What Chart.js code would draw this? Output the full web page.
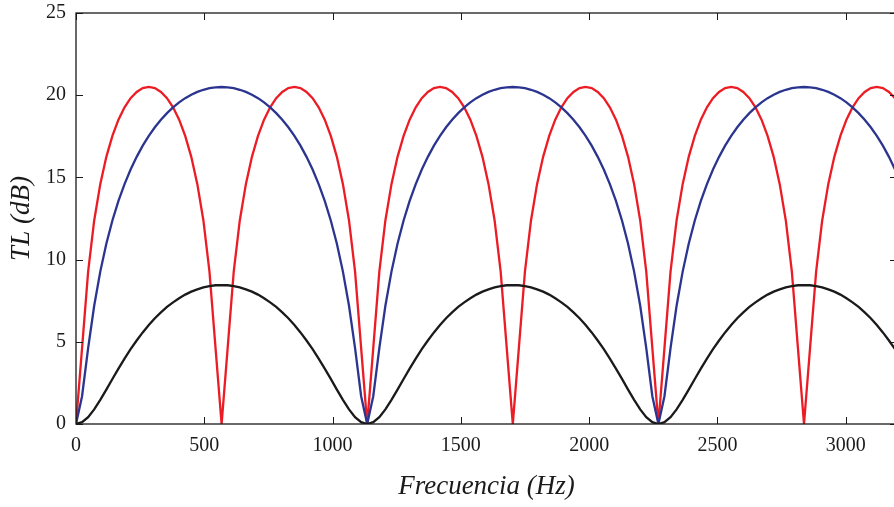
<!DOCTYPE html>
<html>
<head>
<meta charset="utf-8">
<script src="https://cdn.jsdelivr.net/npm/chart.js@4/dist/chart.umd.min.js"></script>
<style>
  html, body { margin: 0; padding: 0; background: #fff; overflow: hidden; }
  #caja { width: 900px; height: 507px; }
</style>
</head>
<body>
<div id="caja"><canvas id="graficoTL"></canvas></div>
<script>
// frecuencias (Hz)
const frecuencia = [
  0, 23.6, 47.3, 70.9, 94.6, 118.2, 141.9, 165.5, 189.2, 212.8, 236.5, 260.1, 283.8, 307.4, 331.0, 354.7,
  378.3, 402.0, 425.6, 449.3, 472.9, 496.6, 520.2, 543.9, 567.5, 591.1, 614.8, 638.4, 662.1, 685.7, 709.4, 733.0,
  756.7, 780.3, 804.0, 827.6, 851.3, 874.9, 898.5, 922.2, 945.8, 969.5, 993.1, 1016.8, 1040.4, 1064.1, 1087.7, 1111.4,
  1135.0, 1158.6, 1182.3, 1205.9, 1229.6, 1253.2, 1276.9, 1300.5, 1324.2, 1347.8, 1371.5, 1395.1, 1418.8, 1442.4, 1466.0, 1489.7,
  1513.3, 1537.0, 1560.6, 1584.3, 1607.9, 1631.6, 1655.2, 1678.9, 1702.5, 1726.1, 1749.8, 1773.4, 1797.1, 1820.7, 1844.4, 1868.0,
  1891.7, 1915.3, 1939.0, 1962.6, 1986.3, 2009.9, 2033.5, 2057.2, 2080.8, 2104.5, 2128.1, 2151.8, 2175.4, 2199.1, 2222.7, 2246.4,
  2270.0, 2293.6, 2317.3, 2340.9, 2364.6, 2388.2, 2411.9, 2435.5, 2459.2, 2482.8, 2506.5, 2530.1, 2553.8, 2577.4, 2601.0, 2624.7,
  2648.3, 2672.0, 2695.6, 2719.3, 2742.9, 2766.6, 2790.2, 2813.9, 2837.5, 2861.1, 2884.8, 2908.4, 2932.1, 2955.7, 2979.4, 3003.0,
  3026.7, 3050.3, 3074.0, 3097.6, 3121.3, 3144.9, 3168.6, 3192.2, 3215.8
];

// TL (dB) curva azul
const tlAzul = [
  0, 1.69, 4.62, 7.19, 9.27, 10.97, 12.38, 13.57, 14.59, 15.48, 16.25, 16.93, 17.53, 18.05, 18.51, 18.91,
  19.26, 19.56, 19.82, 20.03, 20.20, 20.33, 20.43, 20.48, 20.50, 20.48, 20.43, 20.33, 20.20, 20.03, 19.82, 19.56,
  19.26, 18.91, 18.51, 18.05, 17.53, 16.93, 16.25, 15.48, 14.59, 13.57, 12.38, 10.97, 9.27, 7.19, 4.62, 1.69,
  0, 1.69, 4.62, 7.19, 9.27, 10.97, 12.38, 13.57, 14.59, 15.48, 16.25, 16.93, 17.53, 18.05, 18.51, 18.91,
  19.26, 19.56, 19.82, 20.03, 20.20, 20.33, 20.43, 20.48, 20.50, 20.48, 20.43, 20.33, 20.20, 20.03, 19.82, 19.56,
  19.26, 18.91, 18.51, 18.05, 17.53, 16.93, 16.25, 15.48, 14.59, 13.57, 12.38, 10.97, 9.27, 7.19, 4.62, 1.69,
  0, 1.69, 4.62, 7.19, 9.27, 10.97, 12.38, 13.57, 14.59, 15.48, 16.25, 16.93, 17.53, 18.05, 18.51, 18.91,
  19.26, 19.56, 19.82, 20.03, 20.20, 20.33, 20.43, 20.48, 20.50, 20.48, 20.43, 20.33, 20.20, 20.03, 19.82, 19.56,
  19.26, 18.91, 18.51, 18.05, 17.53, 16.93, 16.25, 15.48, 14.59
];

// TL (dB) curva roja
const tlRoja = [
  0, 4.62, 9.27, 12.38, 14.59, 16.25, 17.53, 18.51, 19.26, 19.82, 20.20, 20.43, 20.50, 20.43, 20.20, 19.82,
  19.26, 18.51, 17.53, 16.25, 14.59, 12.38, 9.27, 4.62, 0, 4.62, 9.27, 12.38, 14.59, 16.25, 17.53, 18.51,
  19.26, 19.82, 20.20, 20.43, 20.50, 20.43, 20.20, 19.82, 19.26, 18.51, 17.53, 16.25, 14.59, 12.38, 9.27, 4.62,
  0, 4.62, 9.27, 12.38, 14.59, 16.25, 17.53, 18.51, 19.26, 19.82, 20.20, 20.43, 20.50, 20.43, 20.20, 19.82,
  19.26, 18.51, 17.53, 16.25, 14.59, 12.38, 9.27, 4.62, 0, 4.62, 9.27, 12.38, 14.59, 16.25, 17.53, 18.51,
  19.26, 19.82, 20.20, 20.43, 20.50, 20.43, 20.20, 19.82, 19.26, 18.51, 17.53, 16.25, 14.59, 12.38, 9.27, 4.62,
  0, 4.62, 9.27, 12.38, 14.59, 16.25, 17.53, 18.51, 19.26, 19.82, 20.20, 20.43, 20.50, 20.43, 20.20, 19.82,
  19.26, 18.51, 17.53, 16.25, 14.59, 12.38, 9.27, 4.62, 0, 4.62, 9.27, 12.38, 14.59, 16.25, 17.53, 18.51,
  19.26, 19.82, 20.20, 20.43, 20.50, 20.43, 20.20, 19.82, 19.26
];

// TL (dB) curva negra
const tlNegra = [
  0, 0.11, 0.42, 0.89, 1.47, 2.09, 2.74, 3.37, 3.98, 4.55, 5.08, 5.57, 6.02, 6.43, 6.79, 7.12,
  7.40, 7.65, 7.87, 8.05, 8.19, 8.31, 8.39, 8.44, 8.45, 8.44, 8.39, 8.31, 8.19, 8.05, 7.87, 7.65,
  7.40, 7.12, 6.79, 6.43, 6.02, 5.57, 5.08, 4.55, 3.98, 3.37, 2.74, 2.09, 1.47, 0.89, 0.42, 0.11,
  0, 0.11, 0.42, 0.89, 1.47, 2.09, 2.74, 3.37, 3.98, 4.55, 5.08, 5.57, 6.02, 6.43, 6.79, 7.12,
  7.40, 7.65, 7.87, 8.05, 8.19, 8.31, 8.39, 8.44, 8.45, 8.44, 8.39, 8.31, 8.19, 8.05, 7.87, 7.65,
  7.40, 7.12, 6.79, 6.43, 6.02, 5.57, 5.08, 4.55, 3.98, 3.37, 2.74, 2.09, 1.47, 0.89, 0.42, 0.11,
  0, 0.11, 0.42, 0.89, 1.47, 2.09, 2.74, 3.37, 3.98, 4.55, 5.08, 5.57, 6.02, 6.43, 6.79, 7.12,
  7.40, 7.65, 7.87, 8.05, 8.19, 8.31, 8.39, 8.44, 8.45, 8.44, 8.39, 8.31, 8.19, 8.05, 7.87, 7.65,
  7.40, 7.12, 6.79, 6.43, 6.02, 5.57, 5.08, 4.55, 3.98
];

const ticksX = [0, 500, 1000, 1500, 2000, 2500, 3000];
const ticksY = [0, 5, 10, 15, 20, 25];

const puntos = (ys) => frecuencia.map((f, i) => ({ x: f, y: ys[i] }));

// marco y marcas hacia dentro, al estilo matlab
const marco = {
  id: 'marco',
  afterDraw(chart) {
    const { ctx, chartArea: a, scales } = chart;
    ctx.save();
    ctx.strokeStyle = '#1a1a1a';
    ctx.lineWidth = 1.3;
    ctx.strokeRect(a.left, a.top, a.right - a.left, a.bottom - a.top);
    ctx.lineWidth = 1;
    ctx.beginPath();
    ticksX.forEach(v => {
      const x = Math.round(scales.x.getPixelForValue(v)) + 0.5;
      ctx.moveTo(x, a.bottom); ctx.lineTo(x, a.bottom - 7);
      ctx.moveTo(x, a.top); ctx.lineTo(x, a.top + 7);
    });
    ticksY.forEach(v => {
      const y = Math.round(scales.y.getPixelForValue(v)) + 0.5;
      ctx.moveTo(a.left, y); ctx.lineTo(a.left + 7, y);
      ctx.moveTo(a.right, y); ctx.lineTo(a.right - 7, y);
    });
    ctx.stroke();
    ctx.restore();
  }
};

const serif = '"Liberation Serif", "DejaVu Serif", serif';

new Chart(document.getElementById('graficoTL'), {
  type: 'line',
  data: {
    datasets: [
      { label: 'negra', data: puntos(tlNegra), borderColor: '#1a1a1a', borderWidth: 2.3, pointRadius: 0, tension: 0 },
      { label: 'azul', data: puntos(tlAzul), borderColor: '#2b3590', borderWidth: 2.3, pointRadius: 0, tension: 0 },
      { label: 'roja', data: puntos(tlRoja), borderColor: '#ec1c24', borderWidth: 2.3, pointRadius: 0, tension: 0 }
    ]
  },
  options: {
    responsive: true,
    maintainAspectRatio: false,
    animation: false,
    layout: { padding: { top: 13, right: 3, left: 0, bottom: 0 } },
    plugins: { legend: { display: false }, tooltip: { enabled: false } },
    scales: {
      x: {
        type: 'linear',
        min: 0,
        max: 3200,
        afterBuildTicks: s => { s.ticks = ticksX.map(v => ({ value: v })); },
        afterFit: s => { s.height = 83; s.paddingLeft = 0; s.paddingRight = 0; },
        grid: { display: false, drawTicks: false },
        border: { display: false },
        ticks: { color: '#1a1a1a', padding: 10, maxRotation: 0, callback: v => String(v), font: { family: serif, size: 20 } },
        title: {
          display: true,
          text: 'Frecuencia (Hz)',
          color: '#1a1a1a',
          padding: { top: 0, bottom: 4 },
          font: { family: serif, size: 27, style: 'italic' }
        }
      },
      y: {
        min: 0,
        max: 25,
        afterBuildTicks: s => { s.ticks = ticksY.map(v => ({ value: v })); },
        afterFit: s => { s.width = 76; s.paddingTop = 0; s.paddingBottom = 0; },
        grid: { display: false, drawTicks: false },
        border: { display: false },
        ticks: { color: '#1a1a1a', padding: 10, callback: v => String(v), font: { family: serif, size: 20 } },
        title: {
          display: true,
          text: 'TL (dB)',
          color: '#1a1a1a',
          padding: { top: 6, bottom: 0 },
          font: { family: serif, size: 27, style: 'italic' }
        }
      }
    }
  },
  plugins: [marco]
});
</script>
</body>
</html>
